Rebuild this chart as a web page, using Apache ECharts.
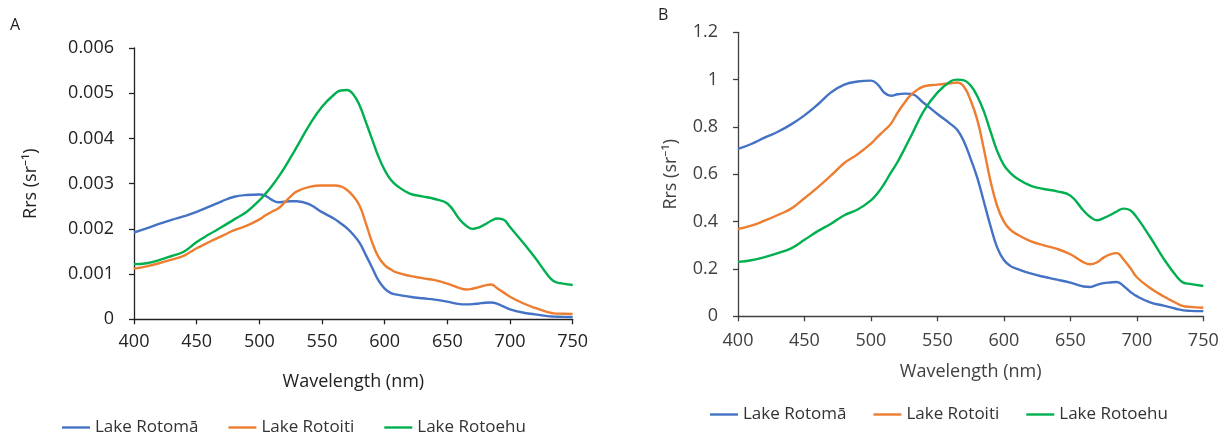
<!DOCTYPE html>
<html>
<head>
<meta charset="utf-8">
<script src="https://cdn.jsdelivr.net/npm/echarts@6/dist/echarts.min.js"></script>
<style>
  html, body { margin: 0; padding: 0; background: #fff; }
  #chart { width: 1225px; height: 437px; }
</style>
</head>
<body>
<div id="chart"></div>
<script>
// Sampled wavelengths (nm), shared by every spectrum
const wavelengths = [400,410,420,430,440,450,460,470,480,490,500,505,510,515,520,525,530,540,550,560,565,570,575,580,585,590,595,600,605,610,620,630,640,650,660,665,670,675,680,685,690,695,700,710,720,730,735,740,750];

const lakeNames = ['Lake Rotomā', 'Lake Rotoiti', 'Lake Rotoehu'];
const lakeColors = ['#4472C4', '#ED7D31', '#00B050'];

// Panel A: remote-sensing reflectance, Rrs (sr^-1)
const rotomaRrs = [0.00192,0.00201,0.00211,0.00220,0.00228,0.002375,0.00249,0.00261,0.00271,0.00275,0.00276,0.00273,0.00264,0.00259,0.00260,0.00261,0.00261,0.00254,0.00237,0.00222,0.00212,0.00201,0.00187,0.00169,0.00142,0.00114,0.00086,0.00068,0.00058,0.000545,0.00050,0.000465,0.000435,0.00039,0.000335,0.00033,0.000335,0.00035,0.000365,0.00037,0.00034,0.00028,0.00022,0.00015,0.00011,0.00007,0.00006,0.000055,0.00005];
const rotoitiRrs = [0.00112,0.00117,0.00124,0.00132,0.00141,0.00157,0.00171,0.00184,0.00197,0.00207,0.00221,0.00230,0.00238,0.00245,0.00258,0.00272,0.00283,0.00293,0.00296,0.00296,0.00294,0.00286,0.00272,0.00251,0.00212,0.00170,0.00138,0.00120,0.00110,0.00103,0.00096,0.00091,0.000865,0.00079,0.00069,0.00066,0.000675,0.00071,0.00075,0.00077,0.00068,0.00059,0.00050,0.00036,0.00025,0.00016,0.00013,0.000125,0.00012];
const rotoehuRrs = [0.00122,0.00124,0.00131,0.00140,0.00150,0.00171,0.00188,0.00204,0.00221,0.00238,0.00263,0.00278,0.00295,0.00314,0.00335,0.00358,0.00382,0.00430,0.00470,0.00498,0.00506,0.00507,0.00497,0.00473,0.00436,0.00398,0.00360,0.00330,0.00308,0.00295,0.00278,0.00272,0.00266,0.00256,0.00220,0.00207,0.00200,0.00203,0.00210,0.00218,0.00223,0.00220,0.00204,0.00171,0.00136,0.00098,0.00084,0.00080,0.00076];

// Panel B: the same spectra scaled to their maximum
const rotomaNorm = [0.707,0.728,0.755,0.780,0.811,0.849,0.895,0.946,0.979,0.992,0.996,0.980,0.945,0.932,0.938,0.941,0.940,0.900,0.855,0.812,0.787,0.738,0.665,0.585,0.483,0.380,0.290,0.238,0.212,0.200,0.181,0.167,0.155,0.142,0.126,0.124,0.133,0.140,0.143,0.145,0.128,0.104,0.085,0.059,0.045,0.031,0.025,0.023,0.022];
const rotoitiNorm = [0.369,0.383,0.404,0.428,0.455,0.499,0.545,0.595,0.648,0.685,0.730,0.758,0.785,0.813,0.860,0.900,0.935,0.972,0.979,0.985,0.988,0.970,0.912,0.830,0.705,0.570,0.465,0.400,0.365,0.346,0.318,0.300,0.285,0.262,0.228,0.220,0.228,0.248,0.262,0.267,0.240,0.205,0.165,0.120,0.085,0.055,0.043,0.040,0.036];
const rotoehuNorm = [0.230,0.237,0.250,0.267,0.287,0.323,0.360,0.391,0.427,0.451,0.490,0.520,0.560,0.607,0.652,0.705,0.760,0.870,0.945,0.993,1.000,0.997,0.975,0.930,0.865,0.780,0.698,0.639,0.605,0.582,0.552,0.538,0.528,0.510,0.446,0.420,0.406,0.415,0.428,0.443,0.455,0.448,0.418,0.335,0.245,0.168,0.142,0.137,0.128];

const panelA = [rotomaRrs, rotoitiRrs, rotoehuRrs];
const panelB = [rotomaNorm, rotoitiNorm, rotoehuNorm];

const FONT = '"Open Sans", "Noto Sans", sans-serif';

function pairs(values) {
  return wavelengths.map((w, i) => [w, values[i]]);
}

function lineSeries(values, idx, axisIndex) {
  return {
    type: 'line',
    name: lakeNames[idx],
    xAxisIndex: axisIndex,
    yAxisIndex: axisIndex,
    data: pairs(values),
    showSymbol: false,
    smooth: 0.45,
    lineStyle: { width: 2.4, color: lakeColors[idx] },
    itemStyle: { color: lakeColors[idx] },
    animation: false
  };
}

function xAxisFor(gridIndex, color, labelMargin, nameGap) {
  return {
    type: 'value', gridIndex: gridIndex,
    min: 400, max: 750, interval: 50,
    name: 'Wavelength (nm)', nameLocation: 'middle', nameGap: nameGap,
    nameTextStyle: { fontFamily: FONT, fontSize: 18, color: color },
    axisLine: { show: true, onZero: false, lineStyle: { color: color, width: 1.3 } },
    axisTick: { show: true, inside: false, length: 5, lineStyle: { color: color, width: 1.3 } },
    axisLabel: { fontFamily: FONT, fontSize: 18, color: color, margin: labelMargin },
    splitLine: { show: false }
  };
}

function yAxisFor(gridIndex, color, max, interval, nameGap) {
  return {
    type: 'value', gridIndex: gridIndex,
    min: 0, max: max, interval: interval,
    name: 'Rrs (sr⁻¹)', nameLocation: 'middle', nameGap: nameGap,
    nameTextStyle: { fontFamily: FONT, fontSize: 18, color: color },
    axisLine: { show: true, lineStyle: { color: color, width: 1.3 } },
    axisTick: { show: true, inside: false, length: 5, lineStyle: { color: color, width: 1.3 } },
    axisLabel: { fontFamily: FONT, fontSize: 18, color: color, margin: 20 },
    splitLine: { show: false }
  };
}

function legendFor(left, top, gap) {
  return {
    left: left, top: top, padding: 0,
    icon: 'rect', itemWidth: 28, itemHeight: 2.4, itemGap: gap,
    data: lakeNames,
    textStyle: { fontFamily: FONT, fontSize: 17, color: '#333' },
    selectedMode: false
  };
}

const chart = echarts.init(document.getElementById('chart'), null, { renderer: 'canvas' });

chart.setOption({
  backgroundColor: '#ffffff',
  animation: false,
  title: [
    { text: 'A', left: 10, top: 17, padding: 0, textStyle: { fontFamily: FONT, fontSize: 16, fontWeight: 'normal', color: '#222' } },
    { text: 'B', left: 658, top: 7, padding: 0, textStyle: { fontFamily: FONT, fontSize: 16, fontWeight: 'normal', color: '#222' } }
  ],
  grid: [
    { left: 134, top: 48, width: 438.7, height: 271.3, containLabel: false },
    { left: 738, top: 32.3, width: 465.3, height: 284, containLabel: false }
  ],
  xAxis: [
    xAxisFor(0, '#222', 14, 54),
    xAxisFor(1, '#404040', 16, 47)
  ],
  yAxis: [
    yAxisFor(0, '#222', 0.006, 0.001, 94),
    yAxisFor(1, '#404040', 1.2, 0.2, 58)
  ],
  legend: [
    legendFor(62, 419, 30),
    legendFor(710, 406, 27)
  ],
  series: [
    ...panelA.map((v, i) => lineSeries(v, i, 0)),
    ...panelB.map((v, i) => lineSeries(v, i, 1))
  ]
});
</script>
</body>
</html>
